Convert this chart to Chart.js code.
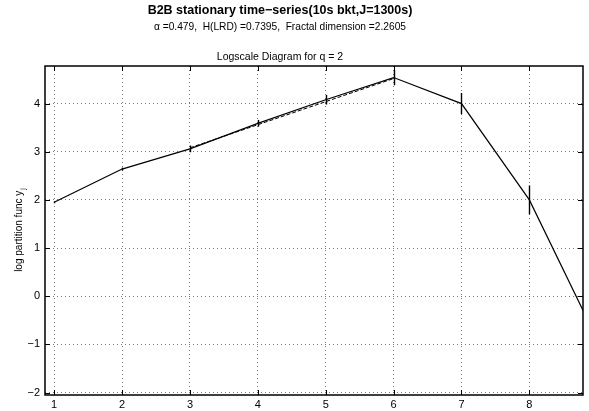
<!DOCTYPE html>
<html>
<head>
<meta charset="utf-8">
<script src="https://cdn.jsdelivr.net/npm/chart.js@4"></script>
<style>
  html, body { margin: 0; padding: 0; background: #fff; }
  #wrap { width: 589px; height: 411px; position: relative; }
</style>
</head>
<body>
<div id="wrap"><canvas id="chart"></canvas></div>
<script>
// octaves j and the log partition function at each one
const octaves = [1, 2, 3, 4, 5, 6, 7, 8, 9]
const logPartition = [1.95, 2.64, 3.06, 3.59, 4.08, 4.54, 4.00, 2.00, -0.90]
const confHalfWidth = [0.02, 0.03, 0.07, 0.07, 0.10, 0.16, 0.22, 0.30, 0.40]

// regression over j = 3..6
const fitRange = [3, 6]
const fitSlope = 0.479
const fitIntercept = 1.645

const xTicks = [1, 2, 3, 4, 5, 6, 7, 8]
const yTicks = [-2, -1, 0, 1, 2, 3, 4]

const mainTitle = 'B2B stationary time\u2212series(10s bkt,J=1300s)'
const subTitle = '\u03b1 =0.479,  H(LRD) =0.7395,  Fractal dimension =2.2605'
const axesTitle = 'Logscale Diagram for q = 2'

const FONT = '"Liberation Sans", Arial, sans-serif'
const minus = v => String(v).replace('-', '\u2212')

const lineData = octaves.map((j, i) => ({ x: j, y: logPartition[i] }))
const fitData = fitRange.map(j => ({ x: j, y: fitIntercept + fitSlope * j }))

// error bars, inner ticks, box and the text around the axes
const decorations = {
    id: 'decorations',
    beforeDatasetsDraw(chart) {
        const { ctx, chartArea: a, scales: { x, y } } = chart
        ctx.save()
        ctx.beginPath()
        ctx.rect(a.left, a.top, a.right - a.left, a.bottom - a.top)
        ctx.clip()
        ctx.strokeStyle = '#000'
        ctx.lineWidth = 1.4
        octaves.forEach((j, i) => {
            const px = Math.round(x.getPixelForValue(j)) + 0.5
            ctx.beginPath()
            ctx.moveTo(px, y.getPixelForValue(logPartition[i] + confHalfWidth[i]))
            ctx.lineTo(px, y.getPixelForValue(logPartition[i] - confHalfWidth[i]))
            ctx.stroke()
        })
        ctx.restore()
    },
    afterDraw(chart) {
        const { ctx, chartArea: a, scales: { x, y } } = chart
        ctx.save()
        ctx.strokeStyle = '#000'
        ctx.lineWidth = 1
        xTicks.forEach(v => {
            const px = Math.round(x.getPixelForValue(v)) + 0.5
            ctx.beginPath()
            ctx.moveTo(px, a.bottom); ctx.lineTo(px, a.bottom - 5)
            ctx.moveTo(px, a.top); ctx.lineTo(px, a.top + 5)
            ctx.stroke()
        })
        yTicks.forEach(v => {
            const py = Math.round(y.getPixelForValue(v)) + 0.5
            ctx.beginPath()
            ctx.moveTo(a.left, py); ctx.lineTo(a.left + 5, py)
            ctx.moveTo(a.right, py); ctx.lineTo(a.right - 5, py)
            ctx.stroke()
        })
        ctx.lineWidth = 1.5
        ctx.strokeRect(a.left, a.top, a.right - a.left, a.bottom - a.top)

        ctx.fillStyle = '#000'
        ctx.textAlign = 'center'
        ctx.textBaseline = 'middle'
        ctx.font = 'bold 12.5px ' + FONT
        ctx.fillText(mainTitle, 280, 11)
        ctx.font = '10.2px ' + FONT
        ctx.fillText(subTitle, 280, 27)
        ctx.font = '10.5px ' + FONT
        ctx.fillText(axesTitle, 280, 57)

        // y label with subscript j
        ctx.translate(19, (a.top + a.bottom) / 2)
        ctx.rotate(-Math.PI / 2)
        ctx.font = '10px ' + FONT
        const main = 'log partition func y'
        const w = ctx.measureText(main).width
        ctx.font = '7px ' + FONT
        const ws = ctx.measureText('j').width
        ctx.textAlign = 'left'
        ctx.font = '10px ' + FONT
        ctx.fillText(main, -(w + ws) / 2, 0)
        ctx.font = '7px ' + FONT
        ctx.fillText('j', -(w + ws) / 2 + w + 1, 4)
        ctx.restore()
    }
}

new Chart('chart', {
    type: 'scatter',
    data: {
        datasets: [
            {
                data: lineData,
                showLine: true,
                borderColor: '#000',
                borderWidth: 1.2,
                pointRadius: 0,
                tension: 0
            },
            {
                data: fitData,
                showLine: true,
                borderColor: '#000',
                borderWidth: 1,
                borderDash: [4, 2],
                pointRadius: 0
            }
        ]
    },
    options: {
        responsive: true,
        maintainAspectRatio: false,
        animation: false,
        layout: { padding: { top: 66, right: 6, left: 0, bottom: 0 } },
        plugins: { legend: { display: false }, tooltip: { enabled: false } },
        scales: {
            x: {
                type: 'linear',
                min: 0.865,
                max: 8.79,
                afterBuildTicks: s => { s.ticks = xTicks.map(v => ({ value: v })) },
                afterFit: s => { s.height = 16 },
                ticks: {
                    color: '#000',
                    padding: 3,
                    font: { family: FONT, size: 11 },
                    maxRotation: 0,
                    callback: v => minus(v)
                },
                grid: { color: '#777', drawTicks: false },
                border: { display: false, dash: [1, 3] }
            },
            y: {
                min: -2.05,
                max: 4.78,
                afterBuildTicks: s => { s.ticks = yTicks.map(v => ({ value: v })) },
                afterFit: s => { s.width = 45 },
                ticks: {
                    color: '#000',
                    padding: 5,
                    font: { family: FONT, size: 11 },
                    callback: v => minus(v)
                },
                grid: { color: '#777', drawTicks: false },
                border: { display: false, dash: [1, 3] }
            }
        }
    },
    plugins: [decorations]
})
</script>
</body>
</html>
